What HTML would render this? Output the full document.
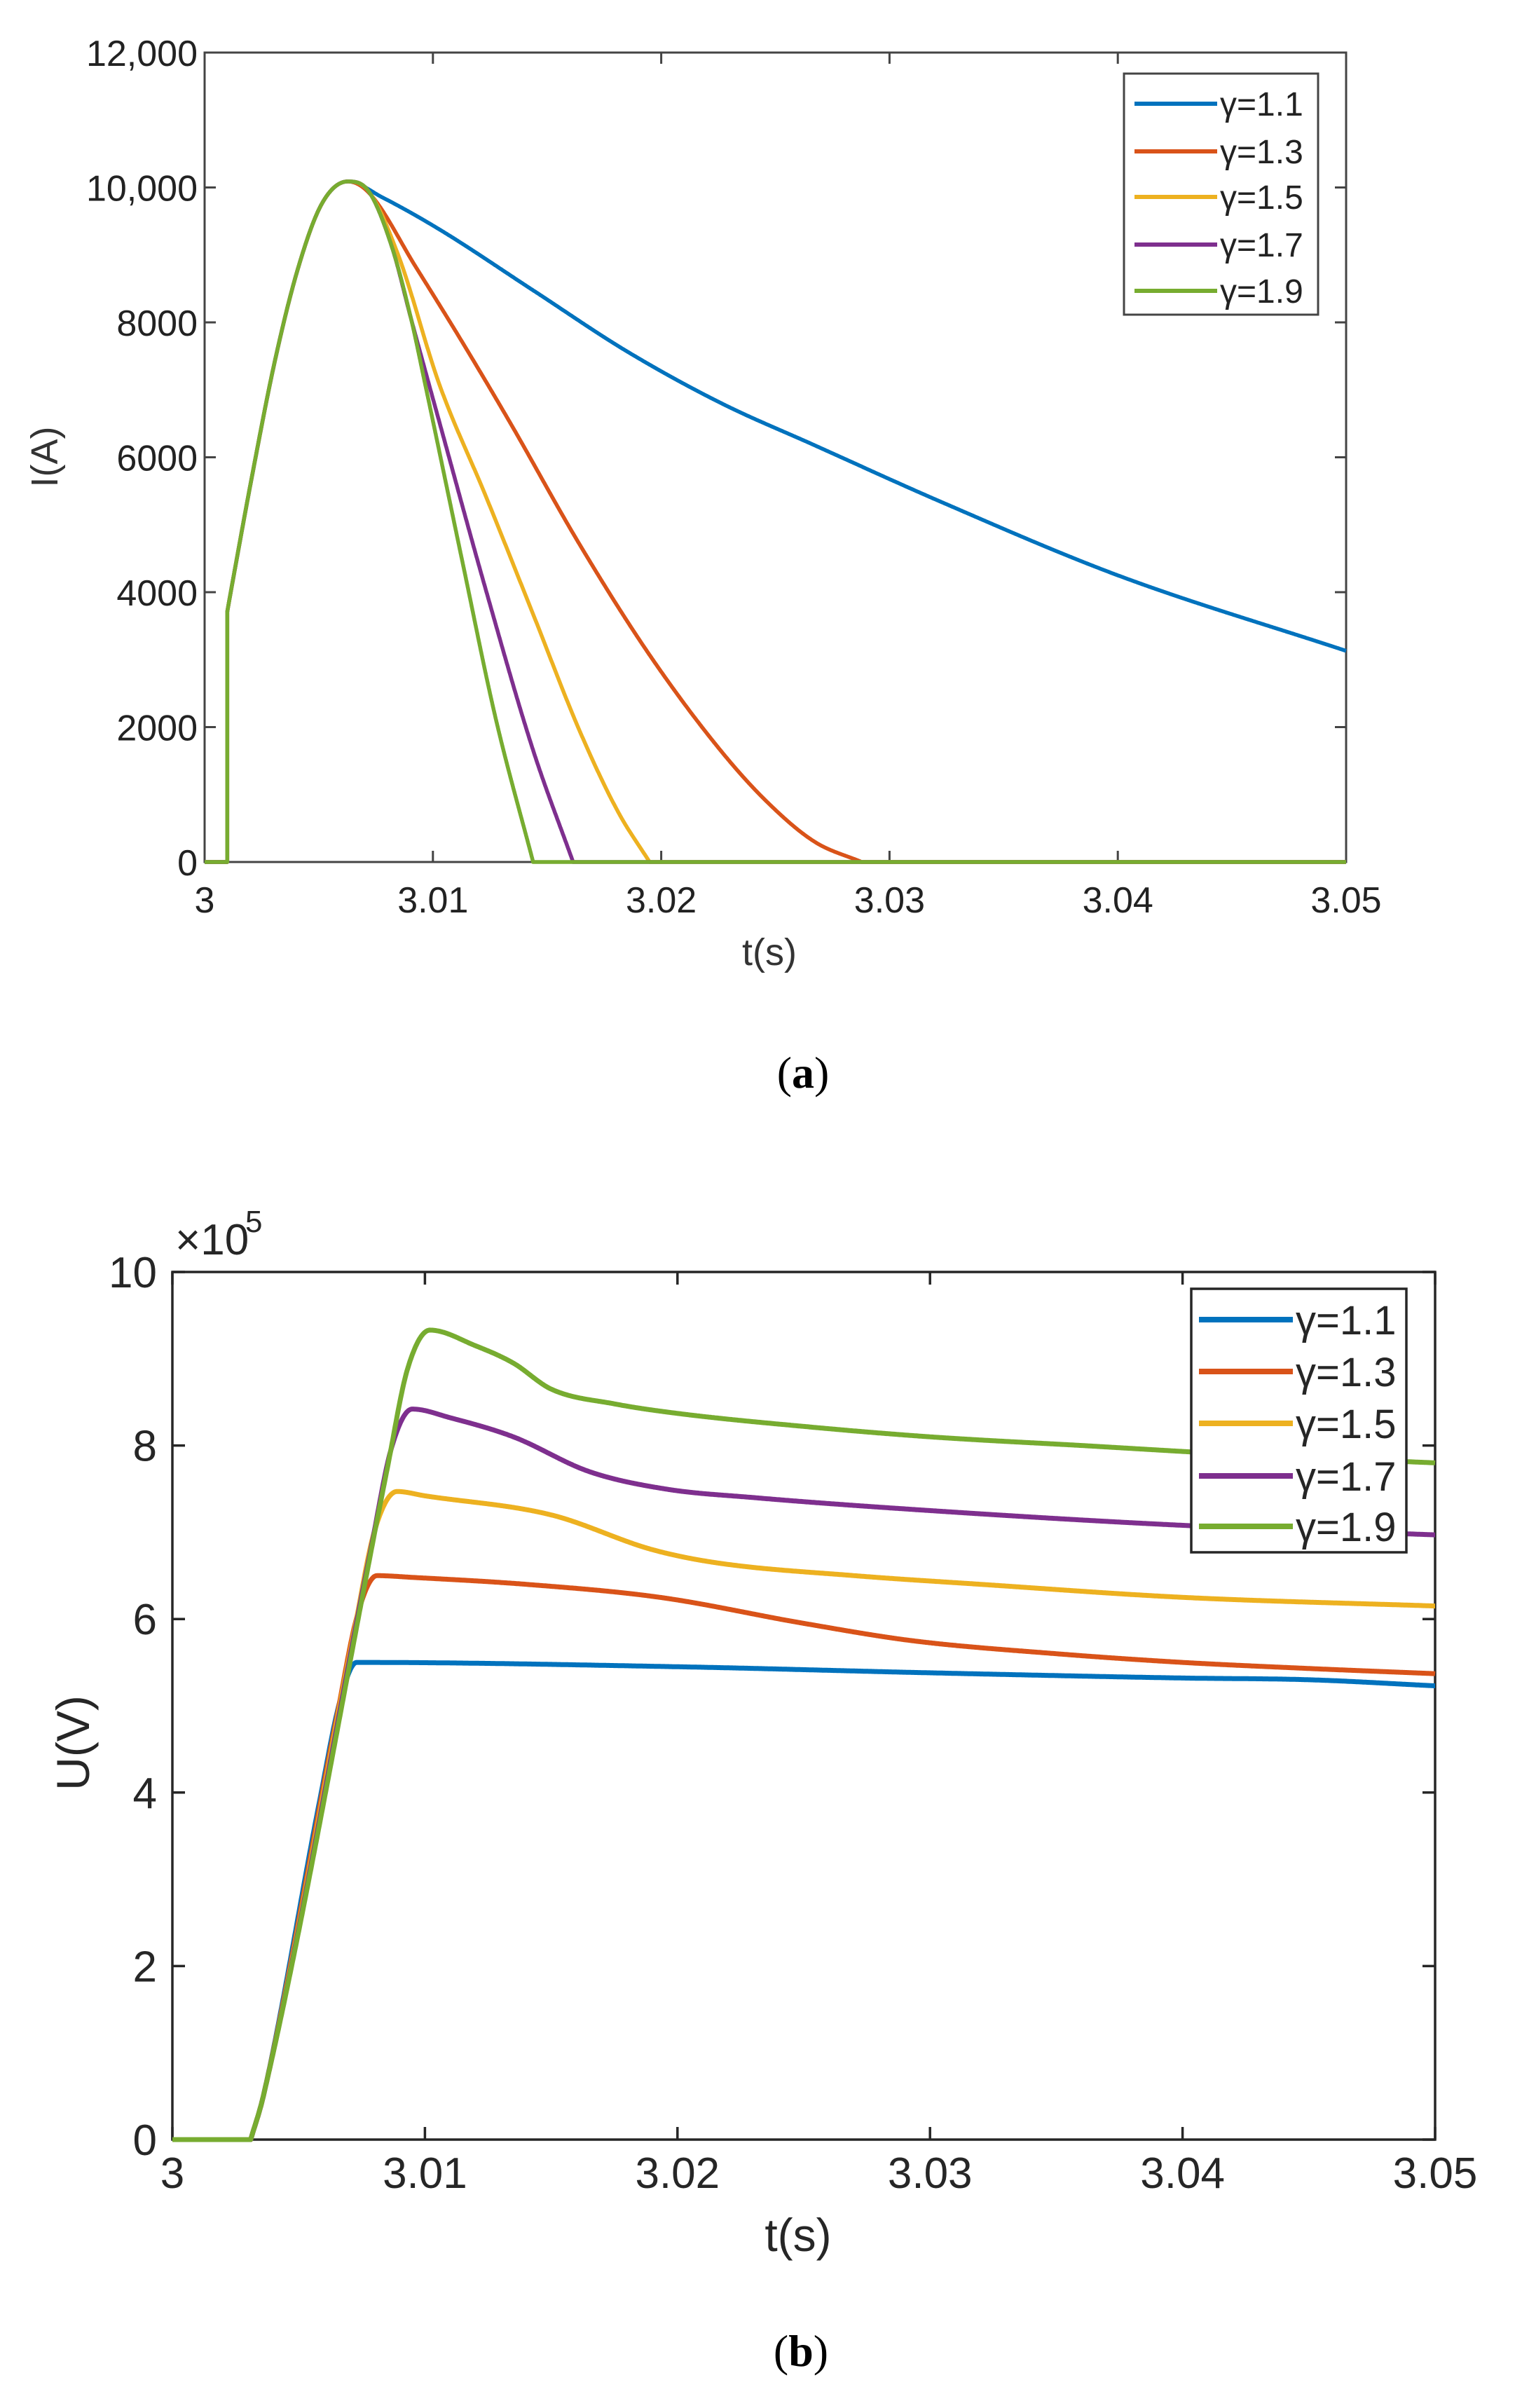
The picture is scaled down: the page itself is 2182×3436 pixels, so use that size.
<!DOCTYPE html>
<html><head><meta charset="utf-8"><style>
html,body{margin:0;padding:0;background:#fff;}
svg{display:block;font-family:"Liberation Sans",sans-serif;}
</style></head><body>
<svg id="s" width="2182" height="3436" viewBox="0 0 2182 3436" xmlns="http://www.w3.org/2000/svg">
<rect width="2182" height="3436" fill="#fff"/>
<g id="a"></g><g id="b"></g>
<text x="1146" y="1552" font-family="Liberation Serif,serif" font-size="64" text-anchor="middle">(<tspan font-weight="bold">a</tspan>)</text>
<text x="1143" y="3376" font-family="Liberation Serif,serif" font-size="64" text-anchor="middle">(<tspan font-weight="bold">b</tspan>)</text>
</svg>
<script>
const NS="http://www.w3.org/2000/svg";
const C=["#0072BD","#D95319","#EDB120","#7E2F8E","#77AC30"];
function el(p,t,a,txt){const e=document.createElementNS(NS,t);for(const k in a)e.setAttribute(k,a[k]);if(txt!==undefined)e.textContent=txt;p.appendChild(e);return e;}
function mono(pts){const n=pts.length,xs=pts.map(p=>p[0]),ys=pts.map(p=>p[1]);const d=[],m=[];
 for(let i=0;i<n-1;i++)d.push((ys[i+1]-ys[i])/(xs[i+1]-xs[i]));
 m[0]=d[0];m[n-1]=d[n-2];for(let i=1;i<n-1;i++){m[i]=(d[i-1]*d[i]<=0)?0:(d[i-1]+d[i])/2;}
 for(let i=0;i<n-1;i++){if(d[i]===0){m[i]=0;m[i+1]=0;continue;}const a=m[i]/d[i],b=m[i+1]/d[i],s=a*a+b*b;if(s>9){const t=3/Math.sqrt(s);m[i]=t*a*d[i];m[i+1]=t*b*d[i];}}
 return function(x){if(x<=xs[0])return ys[0];if(x>=xs[n-1])return ys[n-1];let i=0;while(x>xs[i+1])i++;const h=xs[i+1]-xs[i],t=(x-xs[i])/h,t2=t*t,t3=t2*t;
  return (2*t3-3*t2+1)*ys[i]+(t3-2*t2+t)*h*m[i]+(-2*t3+3*t2)*ys[i+1]+(t3-t2)*h*m[i+1];};}
function sample(f,t0,t1,n){const o=[];for(let i=0;i<=n;i++){const t=t0+(t1-t0)*i/n;o.push([t,f(t)]);}return o;}
// ---------- Plot a ----------
(function(){
const g=document.getElementById('a');
const L=292,R=1921,T=75,B=1230;
const X=t=>L+(t-3)/0.05*(R-L), Y=v=>B-v/12000*(B-T);
el(g,'rect',{x:L,y:T,width:R-L,height:B-T,fill:'none',stroke:'#444',"stroke-width":3});
for(let i=0;i<=5;i++){const x=X(3+i*0.01);el(g,'line',{x1:x,y1:B,x2:x,y2:B-16,stroke:'#444',"stroke-width":3});el(g,'line',{x1:x,y1:T,x2:x,y2:T+16,stroke:'#444',"stroke-width":3});
 el(g,'text',{x:x,y:1302,"font-size":52,"text-anchor":"middle",fill:'#222'},i==0?'3':(3+i*0.01).toFixed(2));}
const yl=['0','2000','4000','6000','8000','10,000','12,000'];
for(let i=0;i<=6;i++){const y=Y(i*2000);el(g,'line',{x1:L,y1:y,x2:L+16,y2:y,stroke:'#444',"stroke-width":3});el(g,'line',{x1:R,y1:y,x2:R-16,y2:y,stroke:'#444',"stroke-width":3});
 el(g,'text',{x:282,y:y+19,"font-size":52,"text-anchor":"end",fill:'#222'},yl[i]);}
el(g,'text',{x:1098,y:1377,"font-size":54,"text-anchor":"middle",fill:'#333'},'t(s)');
el(g,'text',{x:0,y:0,"font-size":54,"text-anchor":"middle",fill:'#333',transform:'translate(82,652) rotate(-90)'},'I(A)');
const rise=[[3.00099,3708],[3.00123,4161],[3.00206,5691],[3.00308,7431],[3.00411,8822],[3.00514,9762],[3.00627,10089]];
const tails=[
[[3.0078,9850],[3.01028,9379],[3.01439,8475],[3.0185,7570],[3.02261,6805],[3.02672,6178],[3.03223,5343],[3.04,4250],[3.05,3130]],
[[3.0072,9920],[3.00925,8822],[3.0113,7700],[3.01336,6526],[3.01644,4700],[3.01953,3050],[3.02261,1650],[3.02467,880],[3.02672,300],[3.02878,0]],
[[3.0072,9936],[3.0085,8980],[3.01028,7083],[3.01233,5413],[3.01439,3673],[3.01644,1934],[3.0181,750],[3.01949,0]],
[[3.0072,9936],[3.00822,9101],[3.00904,8057],[3.01028,6526],[3.01233,4021],[3.01439,1656],[3.01614,0]],
[[3.0072,9936],[3.00822,9101],[3.00904,8057],[3.00966,7083],[3.0113,4439],[3.01274,2143],[3.01439,0]]];
for(let k=0;k<5;k++){
 const pts=rise.concat(tails[k]);const tz=pts[pts.length-1][0];
 const f=mono(pts);
 const sm=sample(f,3.00099,tz,1200);
 let d='M'+X(3).toFixed(1)+','+Y(0).toFixed(1)+' L'+X(3.00099).toFixed(1)+','+Y(0).toFixed(1)+' ';
 sm.forEach(p=>{d+='L'+X(p[0]).toFixed(1)+','+Y(Math.max(0,p[1])).toFixed(1)+' ';});
 if(tz<3.05)d+='L'+X(3.05).toFixed(1)+','+Y(0).toFixed(1);
 el(g,'path',{d:d,fill:'none',stroke:C[k],"stroke-width":5.5,"stroke-linejoin":"round"});}
el(g,'rect',{x:1604,y:105,width:277,height:344,fill:'#fff',stroke:'#444',"stroke-width":3});
const ly=[148,216,281,349,415],lab=['γ=1.1','γ=1.3','γ=1.5','γ=1.7','γ=1.9'];
for(let k=0;k<5;k++){el(g,'line',{x1:1619,y1:ly[k],x2:1737,y2:ly[k],stroke:C[k],"stroke-width":6});
 el(g,'text',{x:1741,y:ly[k]+17,"font-size":48,fill:'#222'},lab[k]);}
})();
// ---------- Plot b ----------
(function(){
const g=document.getElementById('b');
const L=246,R=2048,T=1815,B=3053;
const X=t=>L+(t-3)/0.05*(R-L), Y=v=>B-v/10*(B-T);
el(g,'rect',{x:L,y:T,width:R-L,height:B-T,fill:'none',stroke:'#262626',"stroke-width":3.5});
for(let i=0;i<=5;i++){const x=X(3+i*0.01);el(g,'line',{x1:x,y1:B,x2:x,y2:B-18,stroke:'#262626',"stroke-width":3.5});el(g,'line',{x1:x,y1:T,x2:x,y2:T+18,stroke:'#262626',"stroke-width":3.5});
 el(g,'text',{x:x,y:3122,"font-size":62,"text-anchor":"middle",fill:'#262626'},i==0?'3':(3+i*0.01).toFixed(2));}
for(let i=0;i<=5;i++){const y=Y(i*2);el(g,'line',{x1:L,y1:y,x2:L+18,y2:y,stroke:'#262626',"stroke-width":3.5});el(g,'line',{x1:R,y1:y,x2:R-18,y2:y,stroke:'#262626',"stroke-width":3.5});
 el(g,'text',{x:224,y:y+22,"font-size":62,"text-anchor":"end",fill:'#262626'},String(i*2));}
el(g,'text',{x:250,y:1790,"font-size":62,fill:'#262626'},'×10');
el(g,'text',{x:350,y:1758,"font-size":44,fill:'#262626'},'5');
el(g,'text',{x:1139,y:3212,"font-size":66,"text-anchor":"middle",fill:'#262626'},'t(s)');
el(g,'text',{x:0,y:0,"font-size":66,"text-anchor":"middle",fill:'#262626',transform:'translate(127,2487) rotate(-90)'},'U(V)');
const rv=t=>Math.max(0,(t-3.0031)*1430); // linear rise (x1e5)
const tops=[
[[3.0073,5.5],[3.02,5.45],[3.03,5.38],[3.04,5.32],[3.045,5.3],[3.05,5.23]],
[[3.0081,6.5],[3.0095,6.48],[3.014,6.4],[3.0193,6.25],[3.025,5.95],[3.0293,5.75],[3.035,5.6],[3.04,5.5],[3.045,5.43],[3.05,5.37]],
[[3.0089,7.47],[3.01,7.42],[3.015,7.2],[3.019,6.8],[3.0215,6.65],[3.027,6.5],[3.032,6.4],[3.04,6.25],[3.05,6.15]],
[[3.0095,8.42],[3.011,8.32],[3.0135,8.1],[3.0165,7.7],[3.0195,7.5],[3.023,7.4],[3.03,7.25],[3.04,7.08],[3.05,6.97]],
[[3.0102,9.33],[3.012,9.15],[3.0135,8.95],[3.015,8.65],[3.0175,8.48],[3.02,8.37],[3.025,8.22],[3.03,8.1],[3.036,8.0],[3.042,7.9],[3.05,7.8]]];
for(let k=0;k<5;k++){
 const top=tops[k][0][1];
 const tk=3.0031+(top-0.45)/1430;
 const pts=[[3.0031,0],[3.0036,0.5],[tk-0.0008,rv(tk-0.0008)],[tk,rv(tk)]];
 let tp=tops[k].slice();
 if(tp[0][0]<tk+0.0005)tp[0]=[tk+0.0005,top];
 const all=pts.concat(tp);
 const f=mono(all);
 const sm=sample(f,3.0031,3.05,1500);
 let d='M'+X(3).toFixed(1)+','+Y(0).toFixed(1)+' ';
 sm.forEach(p=>{d+='L'+X(p[0]).toFixed(1)+','+Y(p[1]).toFixed(1)+' ';});
 el(g,'path',{d:d,fill:'none',stroke:C[k],"stroke-width":7,"stroke-linejoin":"round"});}
el(g,'rect',{x:1700,y:1839,width:307,height:376,fill:'#fff',stroke:'#262626',"stroke-width":3.5});
const ly=[1883,1957,2031,2106,2178],lab=['γ=1.1','γ=1.3','γ=1.5','γ=1.7','γ=1.9'];
for(let k=0;k<5;k++){el(g,'line',{x1:1711,y1:ly[k],x2:1845,y2:ly[k],stroke:C[k],"stroke-width":8});
 el(g,'text',{x:1849,y:ly[k]+21,"font-size":58,fill:'#262626'},lab[k]);}
})();
</script>
</body></html>
